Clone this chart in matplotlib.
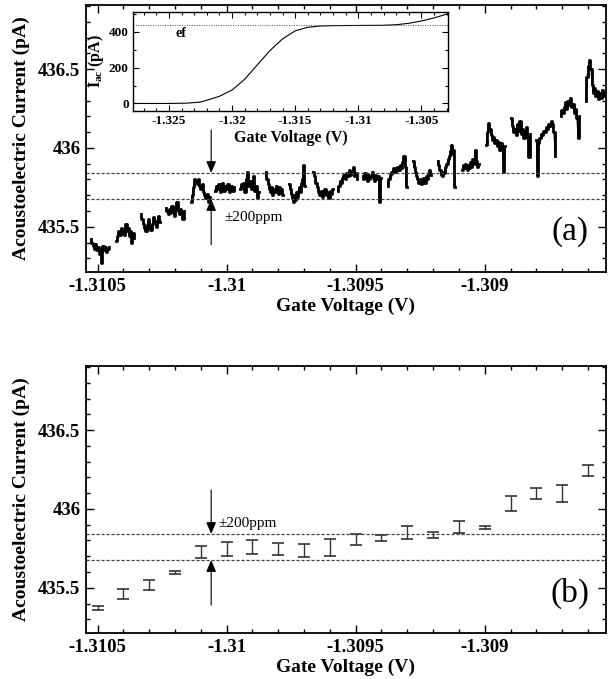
import numpy as np
import matplotlib
matplotlib.use("Agg")
import matplotlib.pyplot as plt
from matplotlib.ticker import MultipleLocator

plt.rcParams['font.family'] = ['Liberation Serif', 'DejaVu Serif']
plt.rcParams['mathtext.fontset'] = 'custom'
plt.rcParams['mathtext.rm'] = 'Liberation Serif:bold'
plt.rcParams['mathtext.it'] = 'Liberation Serif:bold'

# ---- data ----
# panel (a): noisy trace, one segment per gate-voltage step
seg_start = [-1.310527, -1.310427, -1.310333, -1.310236, -1.310138, -1.310045, -1.309948,
             -1.309848, -1.309758, -1.309664, -1.309570, -1.309473, -1.309376, -1.309277,
             -1.309182, -1.309088, -1.308994, -1.308898, -1.308800, -1.308706, -1.308608]
seg_end = [-1.310455, -1.310358, -1.310258, -1.310164, -1.310065, -1.309970, -1.309876,
           -1.309782, -1.309697, -1.309588, -1.309494, -1.309403, -1.309303, -1.309209,
           -1.309115, -1.309024, -1.308921, -1.308823, -1.308727, -1.308633, -1.308535]
seg_values = [
    [435.42, 435.40, 435.38, 435.36, 435.39, 435.35, 435.37, 435.33, 435.36, 435.27, 435.38, 435.35, 435.37, 435.34, 435.36, 435.37],
    [435.41, 435.44, 435.47, 435.45, 435.49, 435.46, 435.48, 435.45, 435.52, 435.47, 435.49, 435.44, 435.47, 435.40, 435.46, 435.43],
    [435.58, 435.55, 435.52, 435.49, 435.47, 435.51, 435.55, 435.50, 435.48, 435.52, 435.56, 435.53, 435.50, 435.54, 435.57, 435.53],
    [435.62, 435.60, 435.58, 435.61, 435.59, 435.63, 435.60, 435.57, 435.62, 435.66, 435.60, 435.58, 435.61, 435.59, 435.55, 435.60],
    [435.66, 435.70, 435.75, 435.80, 435.79, 435.77, 435.80, 435.76, 435.74, 435.77, 435.72, 435.70, 435.68, 435.71, 435.66, 435.69],
    [435.73, 435.76, 435.74, 435.77, 435.72, 435.75, 435.78, 435.73, 435.76, 435.74, 435.77, 435.72, 435.75, 435.76, 435.73, 435.75],
    [435.74, 435.77, 435.75, 435.78, 435.72, 435.80, 435.85, 435.76, 435.79, 435.74, 435.77, 435.82, 435.73, 435.76, 435.68, 435.72],
    [435.85, 435.80, 435.77, 435.74, 435.72, 435.75, 435.70, 435.74, 435.72, 435.76, 435.73, 435.71, 435.75, 435.72, 435.74, 435.70],
    [435.77, 435.74, 435.71, 435.68, 435.66, 435.70, 435.67, 435.72, 435.69, 435.73, 435.75, 435.72, 435.78, 435.80, 435.89, 435.76],
    [435.85, 435.82, 435.78, 435.75, 435.72, 435.70, 435.73, 435.69, 435.71, 435.74, 435.70, 435.72, 435.68, 435.73, 435.71, 435.74],
    [435.73, 435.76, 435.79, 435.78, 435.81, 435.83, 435.80, 435.84, 435.82, 435.86, 435.83, 435.85, 435.88, 435.82, 435.84, 435.80],
    [435.82, 435.80, 435.84, 435.81, 435.79, 435.83, 435.80, 435.82, 435.85, 435.81, 435.79, 435.83, 435.80, 435.82, 435.66, 435.81],
    [435.76, 435.80, 435.83, 435.85, 435.84, 435.87, 435.85, 435.86, 435.88, 435.86, 435.89, 435.87, 435.91, 435.95, 435.88, 435.75],
    [435.92, 435.88, 435.85, 435.82, 435.80, 435.78, 435.80, 435.77, 435.79, 435.81, 435.78, 435.82, 435.80, 435.84, 435.86, 435.83],
    [435.92, 435.89, 435.86, 435.83, 435.82, 435.85, 435.84, 435.88, 435.90, 435.93, 435.95, 435.98, 436.02, 435.96, 435.99, 435.75],
    [435.86, 435.89, 435.87, 435.90, 435.88, 435.86, 435.89, 435.87, 435.91, 435.88, 435.93, 435.90, 435.99, 435.92, 435.88, 435.90],
    [436.02, 436.10, 436.16, 436.12, 436.08, 436.05, 436.07, 436.03, 436.05, 436.01, 436.04, 435.99, 436.03, 436.00, 435.85, 436.01],
    [436.19, 436.14, 436.10, 436.12, 436.08, 436.15, 436.11, 436.17, 436.09, 436.12, 436.06, 436.10, 436.13, 436.07, 435.94, 436.09],
    [436.05, 435.82, 436.03, 436.06, 436.09, 436.08, 436.11, 436.10, 436.13, 436.12, 436.15, 436.14, 436.17, 436.15, 436.10, 435.95],
    [436.20, 436.24, 436.22, 436.26, 436.29, 436.25, 436.30, 436.27, 436.32, 436.26, 436.28, 436.22, 436.25, 436.19, 436.06, 436.20],
    [436.30, 436.45, 436.52, 436.56, 436.50, 436.40, 436.35, 436.38, 436.33, 436.36, 436.31, 436.35, 436.32, 436.37, 436.33, 436.35],
]

# panel (b): averaged values with error bars
avg_v = [-1.3105, -1.3104, -1.3103, -1.3102, -1.3101, -1.3100, -1.3099, -1.3098, -1.3097, -1.3096,
         -1.3095, -1.3094, -1.3093, -1.3092, -1.3091, -1.3090, -1.3089, -1.3088, -1.3087, -1.3086]
avg_i = [435.372, 435.462, 435.517, 435.598, 435.726, 435.747, 435.757, 435.743, 435.734, 435.755,
         435.806, 435.813, 435.851, 435.834, 435.887, 435.883, 436.034, 436.098, 436.100, 436.245]
avg_err = [0.011, 0.032, 0.031, 0.010, 0.039, 0.043, 0.044, 0.038, 0.041, 0.054,
           0.034, 0.019, 0.040, 0.018, 0.039, 0.010, 0.048, 0.034, 0.053, 0.036]

# inset: full step
inset_v = [-1.3279, -1.325, -1.3235, -1.3225, -1.322, -1.321, -1.320, -1.319, -1.318, -1.317,
           -1.316, -1.315, -1.314, -1.313, -1.312, -1.310, -1.308, -1.307, -1.306, -1.305,
           -1.304, -1.3029]
inset_i = [0, 0, 2, 8, 18, 40, 75, 135, 215, 295,
           360, 405, 425, 432, 434, 435, 436, 439, 447, 460,
           477, 500]
ef_level = 437

band_hi = 435.842
band_lo = 435.675
arrow_v = -1.31006

xticks = [-1.3105, -1.31, -1.3095, -1.309]
xticklabels = ['-1.3105', '-1.31', '-1.3095', '-1.309']
yticks = [435.5, 436, 436.5]
yticklabels = ['435.5', '436', '436.5']

fig = plt.figure(figsize=(6.15, 6.79), dpi=100)
W, H = 615.0, 679.0


def style_main(ax, letter):
    ax.set_xlim(-1.310545, -1.30853)
    ax.set_ylim(435.213, 436.907)
    ax.set_xticks(xticks)
    ax.set_xticklabels(xticklabels)
    ax.set_yticks(yticks)
    ax.set_yticklabels(yticklabels)
    ax.xaxis.set_minor_locator(MultipleLocator(0.0001))
    ax.yaxis.set_minor_locator(MultipleLocator(0.1))
    ax.tick_params(which='both', direction='in', top=True, right=True, width=1)
    ax.tick_params(which='major', length=6, labelsize=13.5, pad=4)
    ax.tick_params(which='minor', length=3)
    for lab in ax.get_xticklabels() + ax.get_yticklabels():
        lab.set_fontweight('bold')
    for s in ax.spines.values():
        s.set_linewidth(1.3)
    ax.set_xlabel('Gate Voltage (V)', fontsize=14, fontweight='bold', labelpad=2)
    ax.set_ylabel('Acoustoelectric Current (pA)', fontsize=14, fontweight='bold', labelpad=6)
    ax.axhline(band_hi, color='0.25', lw=0.9, ls=(0, (2.5, 1.5)))
    ax.axhline(band_lo, color='0.25', lw=0.9, ls=(0, (2.5, 1.5)))
    ax.text(0.93, 0.15, letter, transform=ax.transAxes, fontsize=24,
            ha='center', va='center')


arrow_kw = dict(arrowstyle='-|>,head_length=0.7,head_width=0.3', color='black',
                lw=0.8, shrinkA=0, shrinkB=0)

# ---- panel (a) ----
ax_a = fig.add_axes([86 / W, 1 - 272 / H, 520 / W, 267 / H])
for x0, x1, vals in zip(seg_start, seg_end, seg_values):
    xs = np.linspace(x0, x1, len(vals))
    ax_a.plot(xs, vals, color='black', lw=2.0, drawstyle='steps-mid')
    ax_a.plot(xs, vals, color='black', lw=0.8)
style_main(ax_a, '(a)')
ax_a.annotate('', xy=(arrow_v, band_hi), xytext=(arrow_v, 436.114), arrowprops=arrow_kw)
ax_a.annotate('', xy=(arrow_v, band_lo), xytext=(arrow_v, 435.386), arrowprops=arrow_kw)
ax_a.text(-1.31001, 435.557, '\u00b1200ppm', fontsize=11, ha='left', va='center')

# inset
ax_in = fig.add_axes([133 / W, 1 - 111 / H, 315 / W, 99 / H])
ax_in.plot(inset_v, inset_i, color='black', lw=0.8)
ax_in.axhline(ef_level, color='0.3', lw=0.7, ls=(0, (1, 1.5)))
ax_in.text(-1.3245, ef_level - 8, 'ef', fontsize=10, fontweight='bold', va='top')
ax_in.set_xlim(-1.32785, -1.30289)
ax_in.set_ylim(-42, 510)
ax_in.set_xticks([-1.325, -1.32, -1.315, -1.31, -1.305])
ax_in.set_xticklabels(['-1.325', '-1.32', '-1.315', '-1.31', '-1.305'])
ax_in.set_yticks([0, 200, 400])
ax_in.xaxis.set_minor_locator(MultipleLocator(0.001))
ax_in.yaxis.set_minor_locator(MultipleLocator(100))
ax_in.tick_params(which='both', direction='in', top=True, right=True, width=0.8)
ax_in.tick_params(which='major', length=4, labelsize=9.5, pad=3)
ax_in.tick_params(which='minor', length=2.5)
for lab in ax_in.get_xticklabels() + ax_in.get_yticklabels():
    lab.set_fontweight('bold')
for s in ax_in.spines.values():
    s.set_linewidth(1.0)
ax_in.set_xlabel('Gate Voltage (V)', fontsize=11.5, fontweight='bold', labelpad=2)
ax_in.set_ylabel('I$_{ac}$ (pA)', fontsize=11.5, fontweight='bold', labelpad=2)

# ---- panel (b) ----
ax_b = fig.add_axes([86 / W, 1 - 633 / H, 520 / W, 267 / H])
ax_b.errorbar(avg_v, avg_i, yerr=avg_err, fmt='none', ecolor='0.2', elinewidth=1.0,
              capsize=4.5, capthick=1.2)
style_main(ax_b, '(b)')
ax_b.annotate('', xy=(arrow_v, band_hi), xytext=(arrow_v, 436.12), arrowprops=arrow_kw)
ax_b.annotate('', xy=(arrow_v, band_lo), xytext=(arrow_v, 435.39), arrowprops=arrow_kw)
ax_b.text(-1.31003, 435.91, '\u00b1200ppm', fontsize=11, ha='left', va='center')

fig.savefig('out.png', dpi=100)
